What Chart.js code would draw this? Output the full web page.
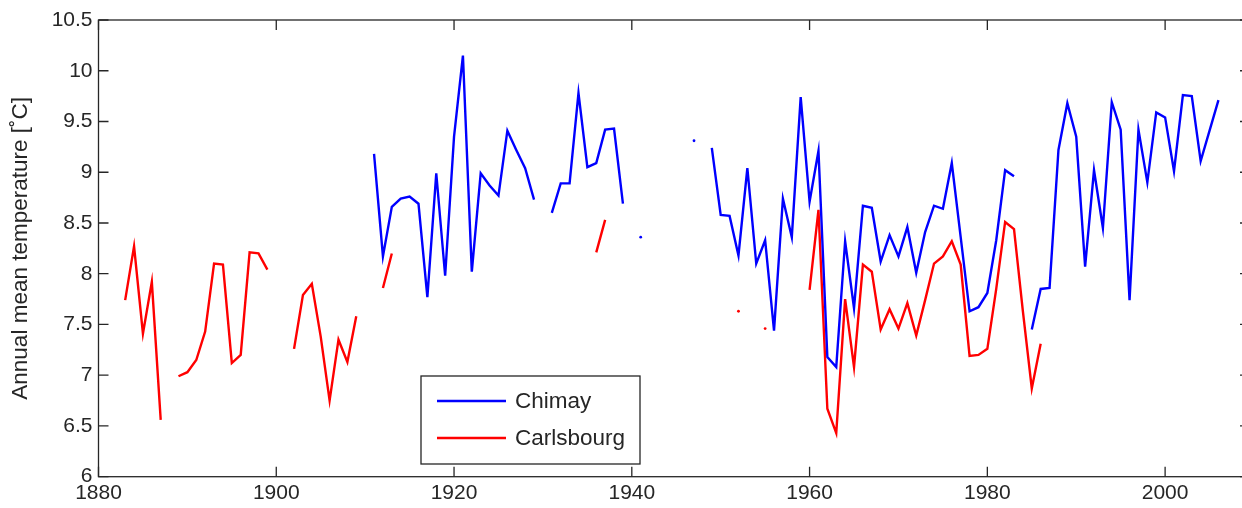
<!DOCTYPE html>
<html>
<head>
<meta charset="utf-8">
<script src="https://cdn.jsdelivr.net/npm/chart.js@4.4.1/dist/chart.umd.min.js"></script>
<style>
  html, body { margin: 0; padding: 0; background: #fff; overflow: hidden; }
  #wrap { width: 1258px; height: 508px; position: relative; }
</style>
</head>
<body>
<div id="wrap"><canvas id="c" width="1258" height="508"></canvas></div>
<script>
// Annual mean temperature, 1883-2006 (null = year missing)
const years = [];
for (let y = 1883; y <= 2006; y++) years.push(y);

const chimay = [
  // 1883-1910
  null, null, null, null, null, null, null, null, null, null,
  null, null, null, null, null, null, null, null, null, null,
  null, null, null, null, null, null, null, null,
  // 1911-1920
  9.18, 8.17, 8.66, 8.74, 8.76, 8.69, 7.77, 8.99, 7.98, 9.35,
  // 1921-1930
  10.15, 8.02, 8.99, 8.87, 8.77, 9.41, 9.22, 9.04, 8.73, null,
  // 1931-1940
  8.60, 8.89, 8.89, 9.78, 9.05, 9.09, 9.42, 9.43, 8.69, null,
  // 1941-1950
  8.36, null, null, null, null, null, 9.31, null, 9.24, 8.58,
  // 1951-1960
  8.57, 8.18, 9.04, 8.10, 8.33, 7.44, 8.74, 8.36, 9.74, 8.71,
  // 1961-1970
  9.21, 7.18, 7.08, 8.32, 7.66, 8.67, 8.65, 8.12, 8.38, 8.17,
  // 1971-1980
  8.46, 8.01, 8.41, 8.67, 8.64, 9.09, 8.36, 7.63, 7.67, 7.81,
  // 1981-1990
  8.33, 9.02, 8.96, null, 7.45, 7.85, 7.86, 9.22, 9.68, 9.35,
  // 1991-2000
  8.07, 9.02, 8.45, 9.69, 9.42, 7.74, 9.42, 8.90, 9.59, 9.54,
  // 2001-2006
  9.01, 9.76, 9.75, 9.11, 9.41, 9.71
];

const carlsbourg = [
  // 1883-1890
  7.74, 8.27, 7.41, 7.92, 6.56, null, 6.99, 7.03,
  // 1891-1900
  7.15, 7.43, 8.10, 8.09, 7.12, 7.20, 8.21, 8.20, 8.04, null,
  // 1901-1910
  null, 7.26, 7.79, 7.90, 7.38, 6.75, 7.35, 7.13, 7.58, null,
  // 1911-1920
  null, 7.86, 8.20, null, null, null, null, null, null, null,
  // 1921-1930
  null, null, null, null, null, null, null, null, null, null,
  // 1931-1940
  null, null, null, null, null, 8.21, 8.53, null, null, null,
  // 1941-1950
  null, null, null, null, null, null, null, null, null, null,
  // 1951-1960
  null, 7.63, null, null, 7.46, null, null, null, null, 7.84,
  // 1961-1970
  8.63, 6.67, 6.43, 7.75, 7.08, 8.09, 8.02, 7.45, 7.65, 7.46,
  // 1971-1980
  7.71, 7.39, 7.74, 8.10, 8.17, 8.32, 8.09, 7.19, 7.20, 7.26,
  // 1981-1986
  7.85, 8.51, 8.44, 7.63, 6.87, 7.31,
  // 1987-2006
  null, null, null, null, null, null, null, null, null, null,
  null, null, null, null, null, null, null, null, null, null
];

const xTicks = [1880, 1900, 1920, 1940, 1960, 1980, 2000];
const yTicks = [6, 6.5, 7, 7.5, 8, 8.5, 9, 9.5, 10, 10.5];

const FONT = '"Liberation Sans", Arial, Helvetica, sans-serif';
const TEXT = '#262626';
const AXIS = '#262626';

function toPoints(vals) {
  return years.map((yr, i) => ({ x: yr, y: vals[i] }));
}

// a lone year (no neighbour on either side) is shown as a small dot
function loneRadius(vals) {
  return ctx => {
    const i = ctx.dataIndex;
    if (vals[i] == null) return 0;
    const prev = i > 0 ? vals[i - 1] : null;
    const next = i < vals.length - 1 ? vals[i + 1] : null;
    return (prev == null && next == null) ? 1.4 : 0;
  };
}

// box around the plot, inward ticks on all four sides, and the legend
const framePlugin = {
  id: 'frame',
  afterDatasetsDraw(chart) {
    const { ctx, chartArea: a, scales: { x, y } } = chart;
    const tl = 10;
    ctx.save();
    ctx.strokeStyle = AXIS;
    ctx.lineWidth = 1.3;
    ctx.strokeRect(a.left, a.top, a.right - a.left, a.bottom - a.top);
    ctx.beginPath();
    xTicks.forEach(v => {
      const px = x.getPixelForValue(v);
      ctx.moveTo(px, a.bottom); ctx.lineTo(px, a.bottom - tl);
      ctx.moveTo(px, a.top); ctx.lineTo(px, a.top + tl);
    });
    yTicks.forEach(v => {
      const py = y.getPixelForValue(v);
      ctx.moveTo(a.left, py); ctx.lineTo(a.left + tl, py);
      ctx.moveTo(a.right, py); ctx.lineTo(a.right - tl - 4, py);
    });
    ctx.stroke();

    // legend
    const bx = 421, by = 376, bw = 219, bh = 88;
    ctx.fillStyle = '#ffffff';
    ctx.fillRect(bx, by, bw, bh);
    ctx.lineWidth = 1.3;
    ctx.strokeRect(bx, by, bw, bh);
    const rows = [401, 438];
    chart.data.datasets.forEach((ds, i) => {
      ctx.strokeStyle = ds.borderColor;
      ctx.lineWidth = 2.4;
      ctx.beginPath();
      ctx.moveTo(437, rows[i]);
      ctx.lineTo(506, rows[i]);
      ctx.stroke();
      ctx.fillStyle = TEXT;
      ctx.font = '22.5px ' + FONT;
      ctx.textBaseline = 'middle';
      ctx.textAlign = 'left';
      ctx.fillText(ds.label, 515, rows[i] + 1);
    });
    ctx.restore();
  }
};

new Chart(document.getElementById('c'), {
  type: 'line',
  data: {
    datasets: [
      {
        label: 'Chimay',
        data: toPoints(chimay),
        borderColor: '#0000ff',
        backgroundColor: '#0000ff',
        borderWidth: 2.4,
        pointRadius: loneRadius(chimay),
        pointBorderWidth: 0,
        tension: 0,
        spanGaps: false
      },
      {
        label: 'Carlsbourg',
        data: toPoints(carlsbourg),
        borderColor: '#ff0000',
        backgroundColor: '#ff0000',
        borderWidth: 2.4,
        pointRadius: loneRadius(carlsbourg),
        pointBorderWidth: 0,
        tension: 0,
        spanGaps: false
      }
    ]
  },
  options: {
    responsive: false,
    animation: false,
    devicePixelRatio: 1,
    layout: { padding: { top: 20, right: 4, left: 0, bottom: 0 } },
    plugins: { legend: { display: false }, tooltip: { enabled: false } },
    scales: {
      x: {
        type: 'linear',
        min: 1880,
        max: 2010,
        afterFit(s) { s.height = 31.3; },
        afterBuildTicks(s) { s.ticks = xTicks.map(v => ({ value: v })); },
        grid: { display: false, drawTicks: false },
        border: { display: false },
        ticks: {
          font: { size: 21, family: FONT },
          color: TEXT,
          padding: 4,
          maxRotation: 0,
          callback: v => String(v)
        }
      },
      y: {
        min: 6,
        max: 10.5,
        afterFit(s) { s.width = 98.5; },
        afterBuildTicks(s) { s.ticks = yTicks.map(v => ({ value: v })); },
        grid: { display: false, drawTicks: false },
        border: { display: false },
        ticks: {
          font: { size: 21, family: FONT },
          color: TEXT,
          padding: 6,
          callback: v => String(v)
        },
        title: {
          display: true,
          text: 'Annual mean temperature [˚C]',
          font: { size: 22.5, family: FONT },
          color: TEXT,
          padding: { top: 7.5, bottom: 0 }
        }
      }
    }
  },
  plugins: [framePlugin]
});
</script>
</body>
</html>
